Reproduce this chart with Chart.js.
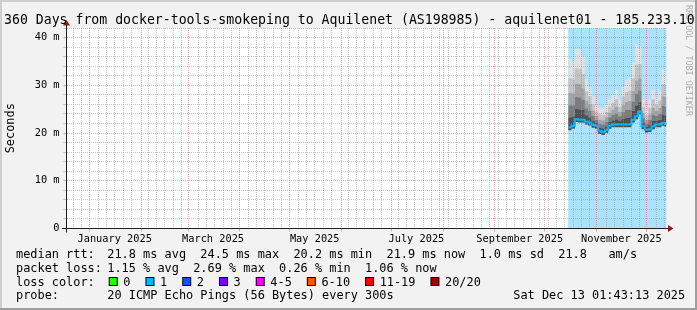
<!DOCTYPE html>
<html><head><meta charset="utf-8">
<script src="https://cdn.jsdelivr.net/npm/chart.js@4"></script>
<style>html,body{margin:0;padding:0;background:#f2f2f2}canvas{display:block}</style>
</head><body>
<canvas id="c" width="697" height="310"></canvas>
<script>
// ---------- texts ----------
const titleText = '360 Days from docker-tools-smokeping to Aquilenet (AS198985) - aquilenet01 - 185.233.10';
const yAxisTitle = 'Seconds';
const watermarkText = 'RRDTOOL / TOBI OETIKER';
const legendRtt = ['median rtt:', '21.8 ms avg  24.5 ms max  20.2 ms min  21.9 ms now  1.0 ms sd  21.8   am/s'];
const legendLoss = ['packet loss:', '1.15 % avg  2.69 % max  0.26 % min  1.06 % now'];
const lossTitle = 'loss color:';
const lossLabels = ['0', '1', '2', '3', '4-5', '6-10', '11-19', '20/20'];
const lossColors = ['#26ff00', '#00b8ff', '#0059ff', '#7e00ff', '#ff00ff', '#ff5500', '#ff0000', '#a10000'];
const probeText = ['probe:', '20 ICMP Echo Pings (56 Bytes) every 300s'];
const dateText = 'Sat Dec 13 01:43:13 2025';

// ---------- x axis: days since graph start (Dec 18 2024 01:43), span 360 days ----------
const spanDays = 360;
const monthStartDays = [13.93, 44.93, 72.93, 103.93, 133.93, 164.93, 194.93, 225.93, 256.93, 286.93, 317.93, 347.93];
const labelDays = [28.93, 87.93, 148.93, 209.93, 271.93, 332.93];
const xLabels = ['January 2025', 'March 2025', 'May 2025', 'July 2025', 'September 2025', 'November 2025'];
// ---------- y axis (ms) ----------
const yMax = 42;
const yMinorStep = 2;
const yLabelValues = [0, 10, 20, 30, 40];
const yLabels = ['0', '10 m', '20 m', '30 m', '40 m'];

// ---------- data (ms), 2-day slots ----------
const slotDays = [301, 303, 305, 307, 309, 311, 313, 315, 317, 319, 321, 323, 325, 327, 329, 331, 333, 335, 337, 339, 341, 343, 345, 347, 349, 351, 353, 355, 357, 359];
const endDay = 360;
const medianRtt = [21.2, 21.5, 22.9, 22.8, 22.8, 22.4, 22.2, 21.7, 21.5, 20.4, 20.2, 20.6, 21.5, 21.8, 21.8, 21.8, 21.8, 21.8, 21.8, 22.8, 23.5, 24.5, 21.4, 20.7, 20.8, 21.4, 21.8, 21.8, 22.1, 21.9];
const smokeLow  = [20.6, 20.9, 22.3, 22.2, 22.2, 21.8, 21.6, 21.1, 20.9, 19.8, 19.6, 20.0, 20.9, 21.2, 21.2, 21.2, 21.2, 21.2, 21.2, 22.2, 22.9, 23.9, 20.8, 20.1, 20.2, 20.8, 21.2, 21.2, 21.5, 21.3];
const smoke1    = [23.3, 23.5, 25.1, 25.0, 24.8, 23.7, 23.3, 22.6, 22.1, 21.1, 21.0, 21.4, 22.3, 22.7, 22.9, 22.6, 23.0, 23.2, 23.3, 24.6, 25.8, 26.6, 22.2, 21.3, 21.7, 22.6, 22.6, 22.8, 23.8, 23.6];
const smoke2    = [25.8, 25.8, 27.6, 27.5, 27.0, 25.2, 24.6, 23.6, 22.8, 21.9, 21.8, 22.3, 23.3, 23.8, 24.1, 23.5, 24.4, 24.8, 24.9, 26.6, 28.3, 28.9, 23.2, 22.0, 22.8, 23.9, 23.6, 24.0, 25.7, 25.5];
const smoke3    = [28.4, 28.3, 30.3, 30.2, 29.4, 26.8, 26.0, 24.7, 23.6, 22.8, 22.7, 23.3, 24.3, 24.9, 25.5, 24.4, 25.8, 26.5, 26.7, 28.8, 31.0, 31.4, 24.2, 22.8, 23.9, 25.3, 24.6, 25.3, 27.7, 27.6];
const smoke4    = [31.5, 31.2, 33.5, 33.4, 32.3, 28.7, 27.7, 26.0, 24.5, 23.9, 23.8, 24.4, 25.5, 26.3, 27.1, 25.5, 27.6, 28.6, 28.8, 31.4, 34.3, 34.4, 25.4, 23.7, 25.3, 27.0, 25.8, 26.8, 30.2, 30.1];
const smokeTop  = [35.5, 35.0, 37.6, 37.5, 36.0, 31.2, 29.8, 27.7, 25.7, 25.2, 25.2, 25.9, 27.0, 28.0, 29.1, 27.0, 29.8, 31.2, 31.5, 34.7, 38.5, 38.2, 27.0, 24.9, 27.0, 29.1, 27.3, 28.7, 33.3, 33.3];

// ---------- styles ----------
const MONO = 'DejaVu Sans Mono';
const GRID = 'rgba(143,143,143,0.5)';
const MGRID = 'rgba(222,79,79,0.5)';
const NONE = 'rgba(0,0,0,0)';
const AXIS = '#1f1f1f';
const ARROW = '#801f1f';
const LOSSBG = '#a9e4fc';

function pts(arr) {
  const p = slotDays.map((d, i) => ({ x: d, y: arr[i] }));
  p.push({ x: endDay, y: arr[arr.length - 1] });
  return p;
}

// x ticks: minor (5-day) grid, major (month start) grid, label ticks
const xTicks = [];
for (let d = monthStartDays[0] - 10; d < spanDays; d += 5) {
  if (d > 0 && !monthStartDays.some(m => Math.abs(m - d) < 1.5)) xTicks.push({ value: d, kind: 'minor' });
}
monthStartDays.forEach(d => xTicks.push({ value: d, kind: 'major' }));
labelDays.forEach((d, i) => xTicks.push({ value: d, kind: 'label', text: xLabels[i] }));
xTicks.sort((a, b) => a.value - b.value);

// y ticks: minor every 2 ms, major (labelled) every 10 ms
const yTicks = [];
for (let v = 0; v <= yMax; v += yMinorStep) {
  const li = yLabelValues.indexOf(v);
  yTicks.push({ value: v, kind: li >= 0 ? 'major' : 'minor', text: li >= 0 ? yLabels[li] : '' });
}

const deco = {
  id: 'deco',
  beforeDraw(chart) {
    const { ctx, chartArea: a } = chart;
    ctx.save();
    ctx.fillStyle = '#f2f2f2';
    ctx.fillRect(0, 0, chart.width, chart.height);
    ctx.fillStyle = '#ffffff';
    ctx.fillRect(a.left, a.top, a.right - a.left, a.bottom - a.top);
    ctx.restore();
  },
  beforeDatasetsDraw(chart) {
    const { ctx, chartArea: a } = chart;
    const xs = chart.scales.x;
    const x0 = xs.getPixelForValue(slotDays[0]);
    const x1 = xs.getPixelForValue(endDay);
    ctx.save();
    ctx.fillStyle = LOSSBG;
    ctx.fillRect(x0, a.top, x1 - x0, a.bottom - a.top);
    ctx.restore();
  },
  afterDraw(chart) {
    const { ctx, chartArea: a } = chart;
    const W = chart.width, H = chart.height;
    ctx.save();
    // axes
    const ax = Math.round(a.left - 0.5), ay = Math.round(a.bottom - 0.5);
    ctx.fillStyle = AXIS;
    ctx.fillRect(ax - 4, ay, (a.right - a.left) + 6, 1);
    ctx.fillRect(ax, a.top - 3, 1, (a.bottom - a.top) + 7);
    ctx.fillStyle = ARROW;
    ctx.beginPath();
    ctx.moveTo(a.right + 1.5, ay - 3); ctx.lineTo(a.right + 7, ay + 0.5); ctx.lineTo(a.right + 1.5, ay + 4);
    ctx.closePath(); ctx.fill();
    ctx.beginPath();
    ctx.moveTo(ax - 3, a.top - 2.5); ctx.lineTo(ax + 0.5, a.top - 8); ctx.lineTo(ax + 4, a.top - 2.5);
    ctx.closePath(); ctx.fill();

    // title
    ctx.fillStyle = '#000';
    ctx.textBaseline = 'alphabetic';
    ctx.textAlign = 'left';
    ctx.font = '13.2px "' + MONO + '"';
    ctx.fillText(titleText, 4, 24);

    // legend
    ctx.font = '11.9px "' + MONO + '"';
    const col0 = 16, col1 = 107.3;
    ctx.fillText(legendRtt[0], col0, 258);
    ctx.fillText(legendRtt[1], col1, 258);
    ctx.fillText(legendLoss[0], col0, 272);
    ctx.fillText(legendLoss[1], col1, 272);
    ctx.fillText(lossTitle, col0, 285.5);
    let bx = 108.7;
    lossLabels.forEach((lab, i) => {
      ctx.fillStyle = '#000';
      ctx.fillRect(bx, 277, 9, 9);
      ctx.fillStyle = lossColors[i];
      ctx.fillRect(bx + 1, 278, 7, 7);
      ctx.fillStyle = '#000';
      const lx = bx + 14.6;
      ctx.fillText(lab, lx, 285.5);
      bx = lx + ctx.measureText(lab).width + 15;
    });
    ctx.fillText(probeText[0], col0, 299);
    ctx.fillText(probeText[1], col1, 299);
    ctx.fillText(dateText, 513.3, 299);

    // watermark
    ctx.save();
    ctx.translate(688, 5);
    ctx.rotate(Math.PI / 2);
    ctx.font = '8.4px "' + MONO + '"';
    ctx.fillStyle = 'rgba(0,0,0,0.3)';
    ctx.textBaseline = 'middle';
    ctx.fillText(watermarkText, 0, 0);
    ctx.restore();

    // frame (3D shading)
    ctx.fillStyle = '#cfcfcf';
    ctx.fillRect(0, 0, W, 2);
    ctx.fillRect(0, 0, 2, H);
    ctx.fillStyle = '#9e9e9e';
    ctx.fillRect(W - 2, 0, 2, H);
    ctx.fillRect(0, H - 2, W, 2);
    ctx.restore();
  }
};

const bandDefaults = { borderWidth: 0, pointRadius: 0, stepped: true, tension: 0 };

new Chart(document.getElementById('c'), {
  type: 'line',
  data: {
    datasets: [
      Object.assign({ label: 'smoke low', data: pts(smokeLow), fill: false, backgroundColor: '#3a3a3a' }, bandDefaults),
      Object.assign({ label: 'smoke 1', data: pts(smoke1), fill: '-1', backgroundColor: '#505050' }, bandDefaults),
      Object.assign({ label: 'smoke 2', data: pts(smoke2), fill: '-1', backgroundColor: '#7c7c7c' }, bandDefaults),
      Object.assign({ label: 'smoke 3', data: pts(smoke3), fill: '-1', backgroundColor: '#a4a4a4' }, bandDefaults),
      Object.assign({ label: 'smoke 4', data: pts(smoke4), fill: '-1', backgroundColor: '#c4c4c4' }, bandDefaults),
      Object.assign({ label: 'smoke top', data: pts(smokeTop), fill: '-1', backgroundColor: '#e0e0e0' }, bandDefaults),
      { label: 'median rtt', data: pts(medianRtt), fill: false, borderColor: '#00b8ff', borderWidth: 2, pointRadius: 0, stepped: true, order: -1 }
    ]
  },
  options: {
    responsive: false,
    animation: false,
    devicePixelRatio: 1,
    layout: { padding: { left: 4, right: 30.5, top: 28, bottom: 0 } },
    plugins: { legend: { display: false }, tooltip: { enabled: false }, title: { display: false } },
    scales: {
      x: {
        type: 'linear', min: 0, max: spanDays,
        afterBuildTicks: s => { s.ticks = xTicks.map(t => ({ value: t.value, kind: t.kind, text: t.text })); },
        afterFit: s => { s.height = 81.5; },
        grid: {
          z: 1, lineWidth: 1, tickLength: 3,
          color: c => c.tick && c.tick.kind === 'major' ? MGRID : (c.tick && c.tick.kind === 'minor' ? GRID : NONE),
          tickColor: c => c.tick && c.tick.kind === 'major' ? MGRID : NONE
        },
        border: { display: false, dash: [1, 1] },
        ticks: {
          autoSkip: false, maxRotation: 0, minRotation: 0, padding: 2, color: '#000',
          font: { family: MONO, size: 10.3 },
          callback: function (v, i) { const t = this.ticks[i]; return t && t.kind === 'label' ? t.text : ''; }
        }
      },
      y: {
        min: 0, max: yMax,
        afterBuildTicks: s => { s.ticks = yTicks.map(t => ({ value: t.value, kind: t.kind, text: t.text })); },
        afterFit: s => { s.width = 62.5; },
        grid: {
          z: 1, lineWidth: 1, tickLength: 3,
          color: c => c.tick && c.tick.kind === 'major' ? MGRID : GRID
        },
        border: { display: false, dash: [1, 1] },
        ticks: {
          autoSkip: false, padding: 4, color: '#000',
          font: { family: MONO, size: 10.3 },
          callback: function (v, i) { const t = this.ticks[i]; return t ? t.text : ''; }
        },
        title: { display: true, text: yAxisTitle, color: '#000', padding: 0, font: { family: MONO, size: 11.9 } }
      }
    }
  },
  plugins: [deco]
});
</script>
</body></html>
